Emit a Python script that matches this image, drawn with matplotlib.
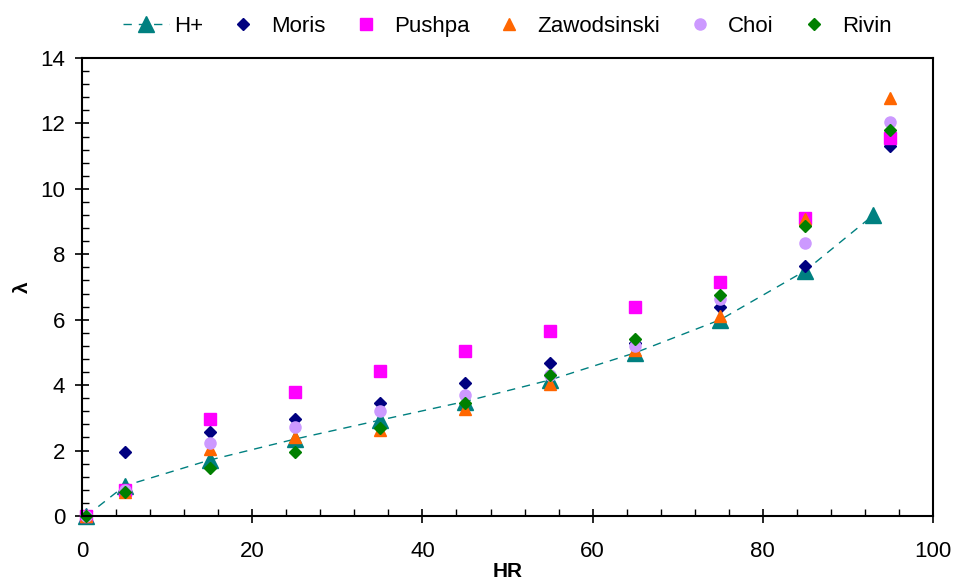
import numpy as np
import matplotlib
matplotlib.use("Agg")
import matplotlib.pyplot as plt
from matplotlib.ticker import MultipleLocator

plt.rcParams['font.family'] = ['Liberation Sans', 'DejaVu Sans']

# data
hr_h = [0.5, 5, 15, 25, 35, 45, 55, 65, 75, 85, 93]
h_plus = [0.0, 0.92, 1.71, 2.35, 2.93, 3.5, 4.16, 4.99, 6.0, 7.5, 9.2]

hr = [0.5, 5, 15, 25, 35, 45, 55, 65, 75, 85, 95]
moris = [0.0, 1.97, 2.58, 2.95, 3.46, 4.06, 4.67, 5.3, 6.38, 7.64, 11.3]
pushpa = [0.0, 0.8, 2.96, 3.8, 4.43, 5.04, 5.66, 6.39, 7.14, 9.12, 11.55]
zawodsinski = [0.0, 0.72, 2.05, 2.42, 2.64, 3.27, 4.02, 5.07, 6.11, 9.07, 12.77]
choi = [0.0, 0.8, 2.22, 2.71, 3.21, 3.7, 4.3, 5.21, 6.62, 8.36, 12.05]
rivin = [0.0, 0.72, 1.48, 1.97, 2.7, 3.44, 4.31, 5.4, 6.76, 8.85, 11.8]

fig = plt.figure(figsize=(9.55, 5.82), dpi=100)
ax = fig.add_axes([0.0859, 0.1134, 0.8911, 0.7869])

ax.plot(hr_h, h_plus, color="#008080", ls=(0, (6, 5)), lw=1.0,
        marker="^", ms=11, label="H+", clip_on=False)
ax.plot(hr, moris, ls="none", marker="D", ms=6, color="#000080", label="Moris",
        clip_on=False)
ax.plot(hr, pushpa, ls="none", marker="s", ms=8, color="#FF00FF", label="Pushpa",
        clip_on=False)
ax.plot(hr, zawodsinski, ls="none", marker="^", ms=8.5, color="#FF6600",
        label="Zawodsinski", clip_on=False)
ax.plot(hr, choi, ls="none", marker="o", ms=8, color="#CC99FF", label="Choi",
        clip_on=False)
ax.plot(hr, rivin, ls="none", marker="D", ms=6, color="#008000", label="Rivin",
        clip_on=False)

ax.set_xlim(0, 100)
ax.set_ylim(0, 14)
ax.xaxis.set_major_locator(MultipleLocator(20))
ax.xaxis.set_minor_locator(MultipleLocator(4))
ax.yaxis.set_major_locator(MultipleLocator(2))
ax.yaxis.set_minor_locator(MultipleLocator(0.4))
ax.tick_params(which="major", direction="inout", length=10, width=1.2,
               labelsize=16)
ax.tick_params(which="minor", direction="in", length=5, width=1.0)
ax.tick_params(axis="x", which="major", pad=13)
ax.tick_params(axis="y", which="major", pad=7)
for s in ax.spines.values():
    s.set_linewidth(1.5)

ax.set_xlabel("HR", fontsize=15, fontweight="bold", labelpad=0)
ax.set_ylabel("λ", fontsize=15, fontweight="bold", labelpad=6)

fig.legend(loc="center", bbox_to_anchor=(0.531, 0.955), ncol=6,
           frameon=False, fontsize=16, handlelength=2.1,
           handletextpad=0.22, columnspacing=0.74)

fig.savefig("out.png", dpi=100)
